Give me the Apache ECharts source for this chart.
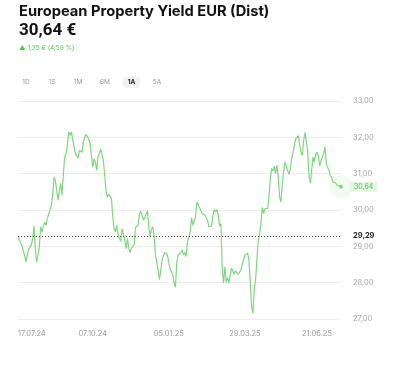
<!DOCTYPE html>
<html>
<head>
<meta charset="utf-8">
<script src="https://cdn.jsdelivr.net/npm/echarts@6/dist/echarts.min.js"></script>
<style>
html,body{margin:0;padding:0;background:#fff;}
#chart{width:402px;height:368px;}
</style>
</head>
<body>
<div id="chart"></div>
<script>
// Header texts
const titleText = 'European Property Yield EUR (Dist)';
const priceText = '30,64 €';
const changeText = '▲ 1,35 € (4,59 %)';
const periods = ['1D', '1S', '1M', '6M', '1A', '5A'];
const activePeriod = '1A';

// Reference (start) value
const refValue = 29.29;

// X tick labels and the index of the point they sit on
const xTickLabels = ['17.07.24', '07.10.24', '05.01.25', '29.03.25', '21.06.25'];
const xTickIndex = [0, 56, 113, 170, 224];

// Y axis ticks
const yTicks = [27, 28, 29, 30, 31, 32, 33];

// Price series
const values = [
  29.29, 29.19, 29.10, 29.01, 28.88, 28.74, 28.58, 28.76, 28.92, 28.96,
  29.04, 29.22, 29.56, 28.90, 28.57, 28.76, 28.99, 29.54, 29.39, 29.56,
  29.67, 29.58, 29.77, 29.89, 29.91, 30.13, 30.41, 30.91, 30.81, 30.82,
  30.27, 30.54, 30.73, 30.41, 31.00, 31.46, 31.55, 31.78, 32.15, 32.05,
  32.15, 32.17, 31.73, 31.56, 31.49, 31.43, 31.64, 31.64, 31.59, 31.87,
  32.02, 32.08, 32.08, 31.95, 31.84, 31.87, 31.18, 31.41,
  31.32, 31.09, 31.48, 31.55, 31.68, 31.64, 31.35, 30.93, 30.50, 30.36,
  30.43, 30.47, 30.32, 29.81, 29.49, 29.40, 29.58, 29.31, 29.22, 29.13,
  29.49, 29.49, 29.17, 28.93, 29.22, 28.95, 28.83, 28.95, 28.95, 29.04,
  29.52, 29.57, 29.58, 29.89, 29.97, 29.94, 29.72, 29.79, 29.77, 29.98,
  29.54, 29.28, 29.47, 29.54, 29.27, 28.76, 28.72, 28.35, 28.08, 28.35,
  28.64, 28.74, 28.83, 28.85, 28.76, 28.53, 28.38, 28.33, 28.21, 27.99,
  27.88, 28.58, 28.76, 28.79, 28.83, 28.90, 28.76, 28.83, 28.72, 29.13,
  29.25, 29.40, 29.79, 29.58, 29.56, 29.81, 30.22, 30.18, 30.07, 30.09,
  29.90, 29.95, 29.86, 29.86, 29.72, 29.54, 29.54, 29.56, 29.83, 30.01,
  29.95, 30.01, 29.86, 29.56, 29.63, 28.44, 27.99, 28.44, 28.01, 28.14,
  27.99, 28.21, 28.40, 28.40, 28.24, 28.33, 28.31, 28.23, 28.29, 28.35,
  28.35, 28.63, 28.76, 28.72, 28.81, 28.63, 28.03, 27.35, 27.16, 27.80,
  28.08, 28.63, 29.16, 29.34, 29.63, 30.07, 29.90, 30.04, 30.00, 30.04,
  30.36, 30.84, 31.14, 31.07, 31.21, 31.00, 31.23, 30.89, 30.36, 30.22,
  30.71, 31.05, 31.32, 31.35, 31.09, 30.98, 31.11, 31.41, 31.57, 31.76,
  31.96, 32.00, 32.05, 31.80, 31.59, 31.50, 31.90, 32.14, 32.19, 31.64,
  30.95, 30.73, 31.09, 31.46, 31.32, 31.53, 31.59, 31.50, 31.21, 31.35,
  31.39, 31.55, 31.73, 31.27, 31.26, 31.09, 30.95, 30.89, 30.77, 30.79,
  30.75, 30.68, 30.67, 30.66, 30.64
];

const categories = values.map((v, i) => String(i));
const lastIdx = values.length - 1;
const lastVal = values[lastIdx];
const fmt = v => v.toFixed(2).replace('.', ',');

const FONT = 'Inter, "Noto Sans", sans-serif';
const GREEN = '#80d680';
const GREEN_TEXT = '#5cbf5c';

const chart = echarts.init(document.getElementById('chart'), null, { renderer: 'canvas' });

const periodX = [26, 52, 78, 105, 131.5, 157];
const graphics = [
  { type: 'text', left: 19, top: 4, style: { text: titleText, font: 'bold 14.7px ' + FONT, fill: '#111' } },
  { type: 'text', left: 19, top: 22, style: { text: priceText, font: 'bold 17px Roboto, ' + FONT, fill: '#111' } },
  { type: 'text', left: 19, top: 44.5, style: { text: changeText, font: '6.5px ' + FONT, fill: GREEN_TEXT } },
  { type: 'rect', shape: { x: 123, y: 77, width: 17, height: 11, r: 3 }, style: { fill: '#f1f1f1' } }
];
periods.forEach((p, i) => {
  graphics.push({
    type: 'text', x: periodX[i], y: 82.5,
    style: {
      text: p, align: 'center', verticalAlign: 'middle',
      font: (p === activePeriod ? 'bold ' : '') + '6.5px ' + FONT,
      fill: p === activePeriod ? '#222' : '#9a9a9a'
    }
  });
});

chart.setOption({
  animation: false,
  textStyle: { fontFamily: FONT },
  graphic: graphics,
  grid: { left: 18, right: 61, top: 101, bottom: 49 },
  xAxis: {
    type: 'category',
    data: categories,
    boundaryGap: false,
    axisLine: { show: false },
    axisTick: { show: false },
    splitLine: { show: false },
    axisLabel: {
      interval: (idx) => xTickIndex.indexOf(idx) >= 0,
      formatter: (val) => {
        const j = xTickIndex.indexOf(Number(val));
        return j >= 0 ? xTickLabels[j] : '';
      },
      alignMinLabel: 'left',
      color: '#9a9a9a',
      fontSize: 7.5,
      margin: 11,
      showMinLabel: true
    }
  },
  yAxis: {
    type: 'value',
    position: 'right',
    min: yTicks[0],
    max: yTicks[yTicks.length - 1],
    interval: 1,
    axisLine: { show: false },
    axisTick: { show: false },
    splitLine: { lineStyle: { color: '#efefef', width: 1 } },
    axisLabel: {
      formatter: v => fmt(v),
      color: '#a8a8a8',
      fontSize: 7.5,
      margin: 12
    }
  },
  series: [
    {
      type: 'scatter',
      z: 1,
      silent: true,
      data: [[lastIdx, lastVal]],
      symbolSize: 23,
      itemStyle: { color: '#eff9ef' }
    },
    {
      type: 'line',
      z: 3,
      data: values,
      showSymbol: false,
      smooth: false,
      lineStyle: { color: GREEN, width: 1.2 },
      itemStyle: { color: GREEN },
      endLabel: {
        show: true,
        formatter: () => fmt(lastVal),
        color: GREEN_TEXT,
        backgroundColor: '#e4f6e4',
        padding: [2, 4, 1, 4],
        fontSize: 7,
        distance: 9
      },
      markPoint: {
        silent: true,
        label: { show: false },
        data: [
          { coord: [lastIdx, lastVal], symbol: 'circle', symbolSize: 4, itemStyle: { color: GREEN } }
        ]
      },
      markLine: {
        silent: true,
        symbol: 'none',
        lineStyle: { color: '#444', type: [1, 2], width: 1 },
        label: {
          position: 'end',
          formatter: () => fmt(refValue),
          color: '#222',
          fontWeight: 'bold',
          fontSize: 7.5,
          distance: 12
        },
        data: [{ yAxis: refValue }]
      }
    }
  ]
});
</script>
</body>
</html>
